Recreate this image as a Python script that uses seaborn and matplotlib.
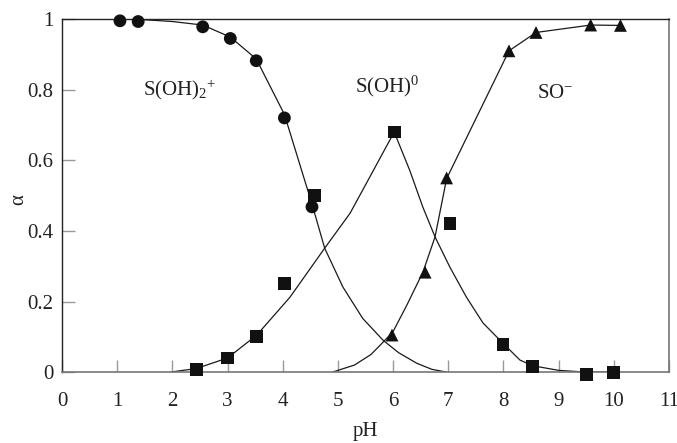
import numpy as np
import pandas as pd
import seaborn as sns
import matplotlib
matplotlib.use("Agg")
import matplotlib.pyplot as plt

# measured points
ph_circ = [1.05, 1.38, 2.55, 3.05, 3.52, 4.03, 4.53]
a_circ = [0.995, 0.993, 0.978, 0.945, 0.882, 0.72, 0.468]

ph_sq = [2.43, 3.0, 3.53, 4.03, 4.57, 6.02, 7.03, 7.99, 8.53, 9.51, 10.0]
a_sq = [0.008, 0.04, 0.1, 0.25, 0.50, 0.68, 0.42, 0.078, 0.017, -0.006, 0.0]

ph_tri = [5.98, 6.58, 6.97, 8.10, 8.59, 9.58, 10.12]
a_tri = [0.105, 0.283, 0.55, 0.91, 0.962, 0.983, 0.982]

# fitted curves
ph_fit1 = [1.0, 1.5, 2.0, 2.55, 3.05, 3.52, 4.03, 4.53, 4.76, 5.09, 5.45, 5.82,
           6.1, 6.43, 6.7, 6.97]
a_fit1 = [1.0, 0.998, 0.993, 0.983, 0.949, 0.887, 0.73, 0.476, 0.351, 0.241, 0.152, 0.09,
          0.055, 0.025, 0.008, 0.0]

ph_fit2 = [1.96, 2.43, 3.0, 3.53, 4.13, 4.76, 5.22, 5.52, 6.02, 6.30, 6.54, 6.76, 7.03,
           7.33, 7.63, 7.99, 8.30, 8.53, 9.0, 9.5, 10.0]
a_fit2 = [0.0, 0.01, 0.04, 0.105, 0.212, 0.351, 0.45, 0.536, 0.68, 0.572, 0.467, 0.383, 0.297,
          0.212, 0.139, 0.082, 0.034, 0.018, 0.005, 0.0, 0.0]

ph_fit3 = [4.9, 5.3, 5.6, 5.82, 6.0, 6.25, 6.54, 6.76, 6.97, 8.10, 8.59, 9.58, 10.12]
a_fit3 = [0.0, 0.02, 0.05, 0.085, 0.115, 0.19, 0.283, 0.383, 0.548, 0.91, 0.962, 0.983, 0.982]

labels = ["S(OH)$_2$$^{+}$", "S(OH)$^{0}$", "SO$^{-}$"]
label_x = [1.47, 5.31, 8.6]
label_y = [0.80, 0.81, 0.79]

sns.set_theme(style="white")
plt.rcParams["font.family"] = ["Liberation Serif", "DejaVu Serif"]
plt.rcParams["mathtext.fontset"] = "custom"
plt.rcParams["mathtext.rm"] = "Liberation Serif"
plt.rcParams["mathtext.it"] = "Liberation Serif"

fig = plt.figure(figsize=(6.77, 4.43), dpi=100)
ax = fig.add_axes([0.0916, 0.160, 0.8966, 0.797])

for px, py in [(ph_fit1, a_fit1), (ph_fit2, a_fit2), (ph_fit3, a_fit3)]:
    d = pd.DataFrame({"pH": px, "a": py})
    sns.lineplot(data=d, x="pH", y="a", sort=False, estimator=None,
                 color="#1a1a1a", linewidth=0.9, ax=ax)

for px, py, m in [(ph_circ, a_circ, "o"), (ph_sq, a_sq, "s"), (ph_tri, a_tri, "^")]:
    d = pd.DataFrame({"pH": px, "a": py})
    sns.scatterplot(data=d, x="pH", y="a", marker=m, s=85, color="#111111",
                    edgecolor="none", ax=ax, zorder=3, clip_on=False)

for t, x, y in zip(labels, label_x, label_y):
    ax.text(x, y, t, fontsize=15, va="center", ha="left", color="#222222")

ax.set_xlim(0, 11)
ax.set_ylim(0, 1)
ax.set_xticks(range(0, 12))
ax.set_yticks([0, 0.2, 0.4, 0.6, 0.8, 1])
ax.set_yticklabels(["0", "0.2", "0.4", "0.6", "0.8", "1"])
ax.tick_params(axis="both", direction="in", length=9, width=1, color="#999999",
               labelsize=15, labelcolor="#222222", bottom=True, left=True)
ax.tick_params(axis="x", pad=14)
ax.tick_params(axis="y", pad=6)
ax.set_xlabel("pH", fontsize=15, color="#222222", labelpad=8)
ax.set_ylabel("α", fontsize=15, color="#222222")
ax.yaxis.set_label_coords(-0.056, 0.49)

for side in ["left", "top"]:
    ax.spines[side].set_color("#222222")
    ax.spines[side].set_linewidth(1.0)
for side in ["bottom", "right"]:
    ax.spines[side].set_color("#777777")
    ax.spines[side].set_linewidth(1.2)

plt.savefig("out.png", dpi=100)
